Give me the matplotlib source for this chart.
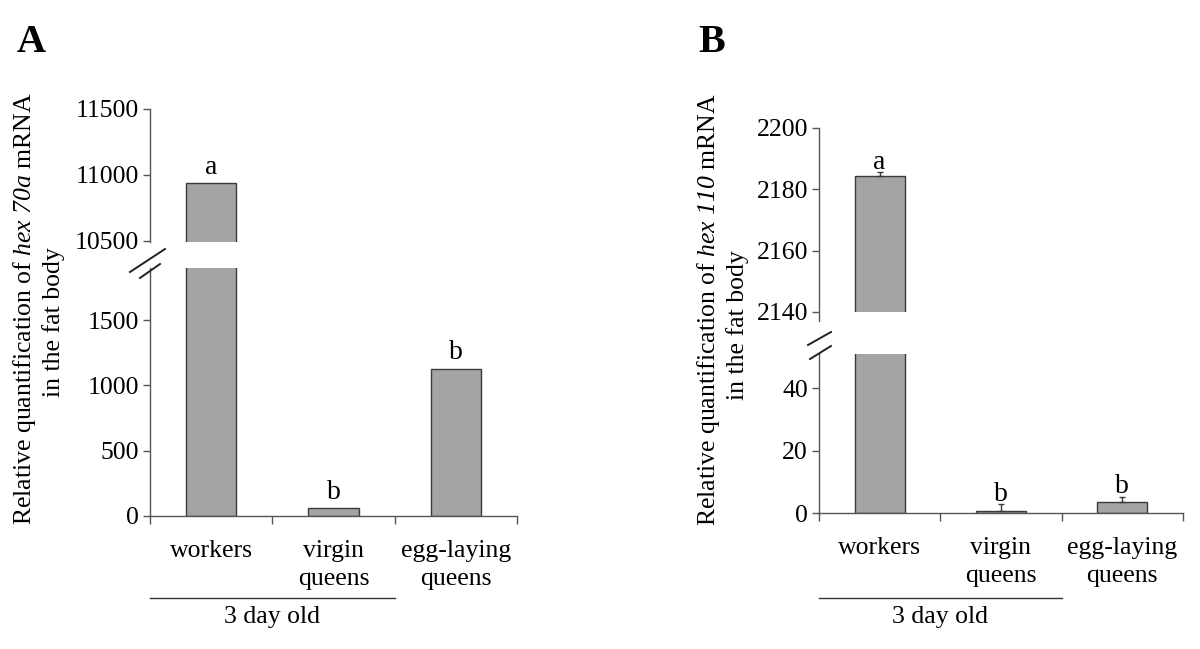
import matplotlib
matplotlib.use("Agg")
import matplotlib.pyplot as plt
from matplotlib.lines import Line2D
from matplotlib.transforms import blended_transform_factory

# ---------------- data ----------------
categories = ["workers", "virgin\nqueens", "egg-laying\nqueens"]
hex70a_values = [10940, 60, 1130]
letters_A = ["a", "b", "b"]
hex110_values = [2184.5, 0.8, 3.4]
hex110_err = [1.0, 2.0, 1.8]
letters_B = ["a", "b", "b"]
group_label = "3 day old"
ticks_A_top = [10500, 11000, 11500]
ticks_A_bot = [0, 500, 1000, 1500]
ticks_B_top = [2140, 2160, 2180, 2200]
ticks_B_bot = [0, 20, 40]

FS = 18.5
LFS = 20
plt.rcParams.update({
    "font.family": ["Liberation Serif", "DejaVu Serif"],
    "mathtext.fontset": "custom",
    "mathtext.rm": "Liberation Serif:italic",
    "mathtext.it": "Liberation Serif:italic",
    "font.size": FS,
})

W, H = 1200, 649
fig = plt.figure(figsize=(W / 100, H / 100), dpi=100)

def px(x0, y0, x1, y1):
    # pixel box (top-left origin) -> figure fraction rect
    return [x0 / W, 1 - y1 / H, (x1 - x0) / W, (y1 - y0) / H]

BAR_COLOR = "#a4a4a4"
EDGE = "#3a3a3a"
AXC = "#555555"
xpos = list(range(len(categories)))

def style_axis(ax, bottom_spine):
    for s in ["top", "right"]:
        ax.spines[s].set_visible(False)
    ax.spines["left"].set_color(AXC)
    ax.spines["left"].set_linewidth(1.0)
    ax.tick_params(axis="y", direction="out", length=5, width=1.0, color=AXC,
                   labelsize=FS, pad=3)
    ax.set_xlim(-0.5, 2.5)
    if bottom_spine:
        ax.spines["bottom"].set_color(AXC)
        ax.spines["bottom"].set_linewidth(1.0)
        ax.set_xticks(xpos)
        ax.set_xticklabels(categories, fontsize=FS, linespacing=1.35)
        ax.set_xticks([-0.5, 0.5, 1.5, 2.5], minor=True)
        ax.tick_params(axis="x", which="major", length=0, pad=17.5)
        ax.tick_params(axis="x", which="minor", direction="out", length=6,
                       width=1.0, color=AXC)
    else:
        ax.spines["bottom"].set_visible(False)
        ax.set_xticks([])

def bars(ax, vals, err=None):
    ax.bar(xpos, vals, width=0.41, color=BAR_COLOR, edgecolor=EDGE, linewidth=1.0)
    if err is not None:
        ax.errorbar(xpos, vals, yerr=[[0] * len(err), err], fmt="none",
                    ecolor=EDGE, elinewidth=1.0, capsize=2, capthick=1.0)

# ---------------- panel A ----------------
axA_top = fig.add_axes(px(150, 109, 517, 242))
axA_bot = fig.add_axes(px(150, 268, 517, 516))
for ax in (axA_top, axA_bot):
    bars(ax, hex70a_values)
axA_top.set_ylim(10490, 11500)
axA_top.set_yticks(ticks_A_top)
axA_bot.set_ylim(0, 1900)
axA_bot.set_yticks(ticks_A_bot)
style_axis(axA_top, False)
style_axis(axA_bot, True)

for i, (v, l) in enumerate(zip(hex70a_values, letters_A)):
    ax = axA_top if v > 1900 else axA_bot
    ax.annotate(l, (i, v), xytext=(0, 6.5), textcoords="offset points",
                ha="center", va="baseline", fontsize=LFS, annotation_clip=False)

# ---------------- panel B ----------------
axB_top = fig.add_axes(px(819, 128, 1183, 312))
axB_bot = fig.add_axes(px(819, 354, 1183, 513))
for ax in (axB_top, axB_bot):
    bars(ax, hex110_values, hex110_err)
axB_top.set_ylim(2140, 2200)
axB_top.set_yticks(ticks_B_top)
axB_bot.set_ylim(0, 51)
axB_bot.set_yticks(ticks_B_bot)
style_axis(axB_top, False)
style_axis(axB_bot, True)
axB_top.spines["left"].set_bounds(2137, 2200)

for i, (v, e, l) in enumerate(zip(hex110_values, hex110_err, letters_B)):
    ax = axB_top if v > 51 else axB_bot
    ax.annotate(l, (i, v + e), xytext=(0, 2.5), textcoords="offset points",
                ha="center", va="baseline", fontsize=LFS, annotation_clip=False)

# ---------------- break marks ----------------
def fline(x0, y0, x1, y1):
    fig.add_artist(Line2D([x0 / W, x1 / W], [1 - y0 / H, 1 - y1 / H],
                          transform=fig.transFigure, color="#222222", lw=1.4))

fline(130, 272, 165, 249)
fline(140, 278, 160, 264)
fline(808, 345, 831, 332)
fline(810, 359, 831, 346)

# ---------------- group brackets ----------------
for ax in (axA_bot, axB_bot):
    tr = blended_transform_factory(ax.transData, fig.transFigure)
    fig.add_artist(Line2D([-0.5, 1.5], [1 - 598 / H, 1 - 598 / H], transform=tr,
                          color="#333333", lw=1.0))
    fig.text(0.5, 1 - 617 / H, group_label, transform=tr, ha="center",
             va="center", fontsize=FS)

# ---------------- y labels ----------------
fig.text(25 / W, 1 - 309 / H, r"Relative quantification of $\mathrm{hex\ 70a}$ mRNA",
         rotation=90, ha="center", va="center", fontsize=FS)
fig.text(54 / W, 1 - 322 / H, "in the fat body",
         rotation=90, ha="center", va="center", fontsize=FS)
fig.text(709 / W, 1 - 310 / H, r"Relative quantification of $\mathrm{hex\ 110}$ mRNA",
         rotation=90, ha="center", va="center", fontsize=FS)
fig.text(738 / W, 1 - 325 / H, "in the fat body",
         rotation=90, ha="center", va="center", fontsize=FS)

# ---------------- panel letters ----------------
fig.text(31 / W, 1 - 42 / H, "A", ha="center", va="center", fontsize=29,
         fontweight="bold")
fig.text(712 / W, 1 - 42 / H, "B", ha="center", va="center", fontsize=29,
         fontweight="bold")

fig.savefig("out.png", dpi=100)
